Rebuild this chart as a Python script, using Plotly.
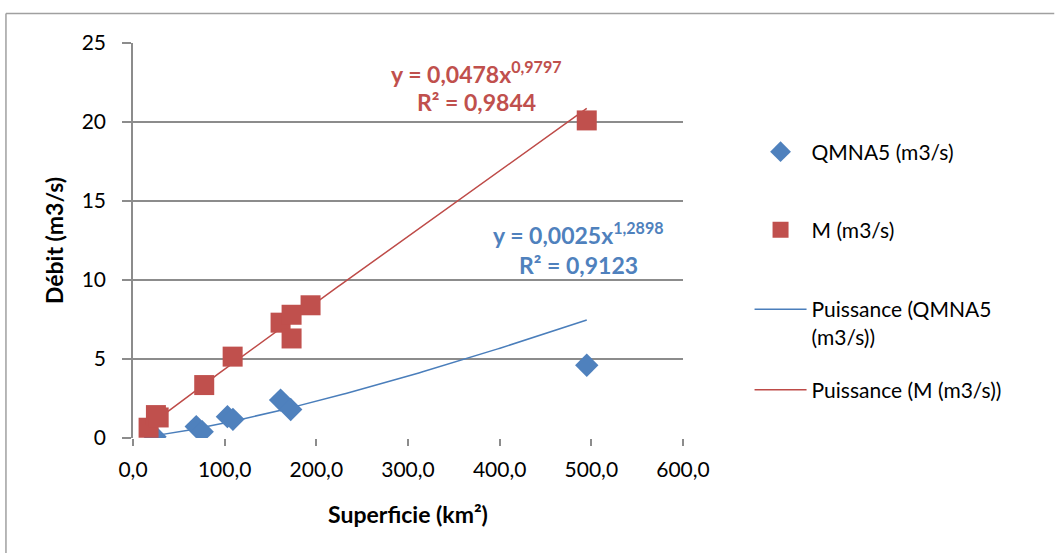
import numpy as np
import plotly.graph_objects as go

# Data
superficie_qmna5 = [24, 69, 75.5, 103, 109, 161, 172, 495]
qmna5 = [0.08, 0.72, 0.40, 1.35, 1.18, 2.40, 1.80, 4.60]

superficie_m = [17, 25, 28, 77.7, 108.7, 161, 173, 173, 193.7, 495]
m_values = [0.65, 1.45, 1.30, 3.35, 5.15, 7.30, 7.80, 6.30, 8.40, 20.10]

# Power trend coefficients shown on the chart
coef_q, exp_q, r2_q = 0.0025, 1.2898, 0.9123
coef_m, exp_m, r2_m = 0.0478, 0.9797, 0.9844

x_ticks = [0, 100, 200, 300, 400, 500, 600]
y_ticks = [0, 5, 10, 15, 20, 25]

BLUE = "#4F81BD"
RED = "#C0504D"
GRID = "#8C8C8C"
FONT = "Lato, 'Open Sans', sans-serif"

xq = np.linspace(min(superficie_qmna5), max(superficie_qmna5), 200)
xm = np.linspace(min(superficie_m), max(superficie_m), 200)

fig = go.Figure()
fig.add_trace(go.Scatter(
    x=xq, y=coef_q * xq ** exp_q, mode="lines", name="Puissance (QMNA5<br>(m3/s))",
    legend="legend3",
    line=dict(color="#4A7EBB", width=1.5),
))
fig.add_trace(go.Scatter(
    x=xm, y=coef_m * xm ** exp_m, mode="lines", name="Puissance (M (m3/s))",
    legend="legend4",
    line=dict(color="#BE4B48", width=1.5),
))
fig.add_trace(go.Scatter(
    x=superficie_qmna5, y=qmna5, mode="markers", name="QMNA5 (m3/s)",
    legend="legend",
    marker=dict(symbol="diamond", size=18, color=BLUE, line=dict(width=0)),
))
fig.add_trace(go.Scatter(
    x=superficie_m, y=m_values, mode="markers", name="M (m3/s)",
    legend="legend2",
    marker=dict(symbol="square", size=20, color=RED, line=dict(width=0)),
))

def fmt(v):
    return f"{v:.4f}".replace(".", ",")

annotations = [
    dict(x=375, y=23.15, text=f"<b>y = {fmt(coef_m)}x<sup>{fmt(exp_m)}</sup></b>", font=dict(color=RED)),
    dict(x=375, y=21.25, text=f"<b>R² = {fmt(r2_m)}</b>", font=dict(color=RED)),
    dict(x=486, y=12.95, text=f"<b>y = {fmt(coef_q)}x<sup>{fmt(exp_q)}</sup></b>", font=dict(color=BLUE)),
    dict(x=486, y=10.95, text=f"<b>R² = {fmt(r2_q)}</b>", font=dict(color=BLUE)),
]
for a in annotations:
    a.update(xref="x", yref="y", showarrow=False, xanchor="center", yanchor="middle")
    a["font"].update(size=23, family=FONT)

def leg(ypaper):
    return dict(
        x=1.121, y=ypaper, xanchor="left", yanchor="middle",
        font=dict(size=21, family=FONT),
        itemwidth=52, valign="top",
        bgcolor="rgba(0,0,0,0)", borderwidth=0,
    )

fig.update_layout(
    width=1057, height=553,
    margin=dict(l=133, r=374, t=43, b=115),
    paper_bgcolor="white", plot_bgcolor="white",
    separators=", ",
    font=dict(family=FONT, size=21, color="black"),
    showlegend=True,
    legend=leg((438 - 152) / 395),
    legend2=leg((438 - 230) / 395),
    legend3=leg((438 - 323) / 395),
    legend4=leg((438 - 390) / 395),
    annotations=annotations,
    shapes=[
        dict(type="line", xref="paper", yref="paper", x0=-0.231, x1=1.675, y0=1.075, y1=1.075,
             line=dict(color="#A0A0A0", width=1.5)),
        dict(type="line", xref="paper", yref="paper", x0=-0.231, x1=-0.231, y0=1.075, y1=-0.4,
             line=dict(color="#A0A0A0", width=1.5)),
    ],
)
fig.update_xaxes(
    range=[0, 600], tickvals=x_ticks, tickformat=".1f",
    showgrid=False, zeroline=False,
    showline=False,
    ticks="outside", ticklen=7, tickcolor=GRID, tickwidth=1.5,
    ticklabelstandoff=6,
    tickfont=dict(size=21),
    title=dict(text="<b>Superficie (km²)</b>", font=dict(size=23), standoff=26),
)
fig.update_yaxes(
    range=[0, 25], tickvals=y_ticks,
    showgrid=True, gridcolor=GRID, gridwidth=1.5,
    zeroline=False,
    showline=True, linecolor=GRID, linewidth=1.5,
    ticks="outside", ticklen=9, tickcolor=GRID, tickwidth=1.5,
    ticklabelstandoff=12,
    tickfont=dict(size=21),
    title=dict(text="<b>Débit (m3/s)</b>", font=dict(size=23), standoff=12),
)

fig.write_html("out.html")
